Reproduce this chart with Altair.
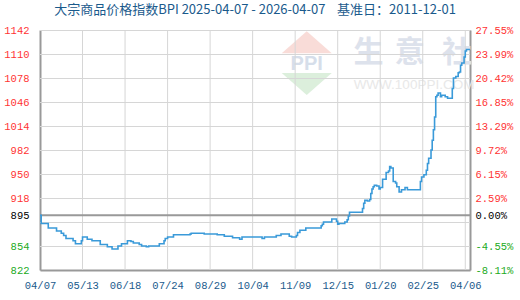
import altair as alt
import pandas as pd

# ---- data ----
days = [0, 1, 7, 14, 18, 20, 22, 28, 30, 35,
        36, 40, 44, 51, 57, 61, 66, 69, 74, 77,
        79, 84, 86, 90, 92, 101, 105, 106, 108, 113,
        127, 128, 139, 150, 156, 163, 169, 171, 188, 190,
        200, 204, 211, 213, 217, 218, 220, 225, 238, 239,
        240, 247, 251, 252, 253, 258, 260, 261, 262, 273,
        274, 275, 277, 279, 280, 281, 282, 283, 285, 287,
        288, 290, 293, 295, 296, 297, 299, 301, 302, 304,
        306, 309, 311, 322, 323, 325, 327, 328, 329, 331,
        332, 333, 334, 335, 336, 337, 339, 340, 343, 345,
        349, 350, 352, 354, 355, 356, 357, 359, 360, 361,
        364]
values = [895, 884, 878, 874, 871, 868, 864, 861, 857, 861,
          866, 863, 861, 856, 853, 850, 854, 857, 861, 860,
          858, 856, 854, 853, 854, 857, 861, 864, 866, 869,
          870, 871, 870, 869, 867, 865, 863, 866, 864, 866,
          868, 870, 867, 866, 868, 872, 875, 878, 881, 883,
          886, 890, 887, 883, 884, 886, 889, 894, 899, 904,
          911, 915, 914, 916, 924, 930, 933, 935, 934, 930,
          932, 943, 952, 954, 960, 958, 940, 938, 933, 926,
          929, 932, 929, 940, 946, 949, 955, 964, 971, 982,
          995, 1009, 1026, 1053, 1055, 1058, 1053, 1055, 1053, 1051,
          1064, 1078, 1080, 1085, 1086, 1095, 1098, 1106, 1114, 1116,
          1116]

x_tick_days = [0, 36, 72, 108, 144, 180, 216, 252, 288, 324, 360]
x_tick_labels = ["04/07", "05/13", "06/18", "07/24", "08/29", "10/04",
                 "11/09", "12/15", "01/20", "02/25", "04/06"]
# tick positions on the value axis; the 886 grid line carries the base label
y_tick_values = [1142, 1110, 1078, 1046, 1014, 982, 950, 918, 886, 854, 822]
y_left_labels = ["1142", "1110", "1078", "1046", "1014", "982", "950", "918",
                 "895", "854", "822"]
y_pct_labels = ["27.55%", "23.99%", "20.42%", "16.85%", "13.29%", "9.72%",
                "6.15%", "2.59%", "0.00%", "-4.55%", "-8.11%"]
h_grid = [1142, 1110, 1078, 1046, 1014, 982, 950, 918, 886, 854]
v_grid = [36, 72, 108, 144, 180, 216, 252, 288, 324, 360]
base_value = 895
base_grid = 886
y_domain = [822, 1142]
x_domain = [0, 364]

NB = "\u00a0"
title_text = "大宗商品价格指数BPI 2025-04-07 - 2026-04-07" + NB * 4 + "基准日：2011-12-01"

# watermark (placed in data space)
wm_chars = ["生", "意", "社"]
wm_char_days = [278, 313, 353]
wm_char_value = 1112

df = pd.DataFrame({"day": days, "value": values})


def ternary(keys, labels, default="''"):
    expr = default
    for k, l in reversed(list(zip(keys, labels))):
        expr = f"datum.value == {k} ? '{l}' : ({expr})"
    return expr


label_color = {
    "condition": [
        {"test": f"datum.value > {base_value}", "value": "#ff3333"},
        {"test": f"datum.value == {base_grid}", "value": "#000000"},
    ],
    "value": "#22aa22",
}
label_offset = {
    "condition": {"test": f"datum.value == {base_grid}", "value": -7},
    "value": 0,
}

GRID = "#d6d6d6"
FRAME = "#999999"
MONO = "Liberation Mono"
CJK = "Noto Sans CJK SC, sans-serif"


def xs():
    return alt.Scale(domain=x_domain, nice=False, zero=False)


def ys():
    return alt.Scale(domain=y_domain, nice=False, zero=False)


def X(field):
    return alt.X(field, scale=xs(), axis=None, title=None)


def Y(field):
    return alt.Y(field, scale=ys(), axis=None, title=None)


# light grid as rule marks
hgrid = alt.Chart(pd.DataFrame({"hg": h_grid})).mark_rule(
    color=GRID, strokeWidth=1, yOffset=0.5
).encode(y=Y("hg:Q"))

vgrid = alt.Chart(pd.DataFrame({"vg": v_grid})).mark_rule(
    color=GRID, strokeWidth=1
).encode(x=X("vg:Q"))

# base line 895
base_rule = alt.Chart(pd.DataFrame({"b": [base_value]})).mark_rule(
    color=FRAME, strokeWidth=2
).encode(y=Y("b:Q"))

# watermark
wm_df = pd.DataFrame({"c": wm_chars, "d": wm_char_days, "v": [wm_char_value] * 3})
wm_text = alt.Chart(wm_df).mark_text(
    font=CJK, fontSize=30, fontWeight="bold", color="#dde2ec"
).encode(x=X("d:Q"), y=Y("v:Q"), text="c:N")

wm_url = alt.Chart(pd.DataFrame({"t": ["WWW.100PPI.COM"], "d": [316.6], "v": [1068.7]})).mark_text(
    font="Liberation Sans", fontSize=13.5, color="#e8e8e8"
).encode(x=X("d:Q"), y=Y("v:Q"), text="t:N")

tri_path_up = "M-1,0.44L0,-0.44L1,0.44Z"
tri_path_dn = "M-1,-0.44L0,0.44L1,-0.44Z"
logo_up = alt.Chart(pd.DataFrame({"d": [225.8], "v": [1125.6]})).mark_point(
    shape=tri_path_up, size=2500, filled=True, color="#f9dcd8", opacity=1
).encode(x=X("d:Q"), y=Y("v:Q"))
logo_dn = alt.Chart(pd.DataFrame({"d": [225.8], "v": [1070.0]})).mark_point(
    shape=tri_path_dn, size=2500, filled=True, color="#dcefdc", opacity=1
).encode(x=X("d:Q"), y=Y("v:Q"))
logo_txt = alt.Chart(pd.DataFrame({"t": ["PPI"], "d": [225.8], "v": [1096.7]})).mark_text(
    font="Liberation Sans", fontSize=20, fontWeight="bold", color="#d6deea"
).encode(x=X("d:Q"), y=Y("v:Q"), text="t:N")

# the index line carries the x axis and left axis
line = alt.Chart(df).mark_line(
    interpolate="step-after", color="#3a9ad9", strokeWidth=1.6
).encode(
    x=alt.X("day:Q", scale=xs(), title=None,
            axis=alt.Axis(values=x_tick_days,
                          labelExpr=ternary(x_tick_days, x_tick_labels),
                          grid=False, ticks=False, domainColor=FRAME,
                          domainWidth=2, labelColor="#1a5a8c", labelFont=MONO,
                          labelFontSize=10.5, labelPadding=10,
                          labelFlush=False, labelOverlap=False)),
    y=alt.Y("value:Q", scale=ys(), title=None,
            axis=alt.Axis(values=y_tick_values,
                          labelExpr=ternary(y_tick_values, y_left_labels),
                          grid=False, ticks=False,
                          domainColor=FRAME, domainWidth=2,
                          labelColor=label_color, labelOffset=label_offset,
                          labelFont=MONO,
                          labelFontSize=10.5, labelPadding=11,
                          labelOverlap=False)),
)

# right axis (percent)
right = alt.Chart(df).mark_line(opacity=0).encode(
    x=X("day:Q"),
    y=alt.Y("value:Q", scale=ys(), title=None,
            axis=alt.Axis(orient="right", values=y_tick_values,
                          labelExpr=ternary(y_tick_values, y_pct_labels),
                          grid=False, ticks=False, domainColor=FRAME,
                          domainWidth=2, labelColor=label_color,
                          labelOffset=label_offset,
                          labelFont=MONO, labelFontSize=10.5,
                          labelPadding=5, labelOverlap=False)),
)

chart = alt.layer(
    logo_up, logo_dn, logo_txt, wm_text, wm_url,
    hgrid, vgrid, base_rule, line, right
).resolve_scale(x="independent", y="independent").properties(
    width=430, height=240,
    autosize="none",
    padding={"left": 40, "top": 30, "right": 50, "bottom": 30},
    title=alt.TitleParams(text=title_text, font=CJK,
                          fontSize=13, fontWeight="normal", color="#1a5a8c",
                          anchor="middle", offset=8),
).configure_view(stroke=None).configure(background="white")

chart.save("out.html", embed_options={"renderer": "svg", "actions": False})
